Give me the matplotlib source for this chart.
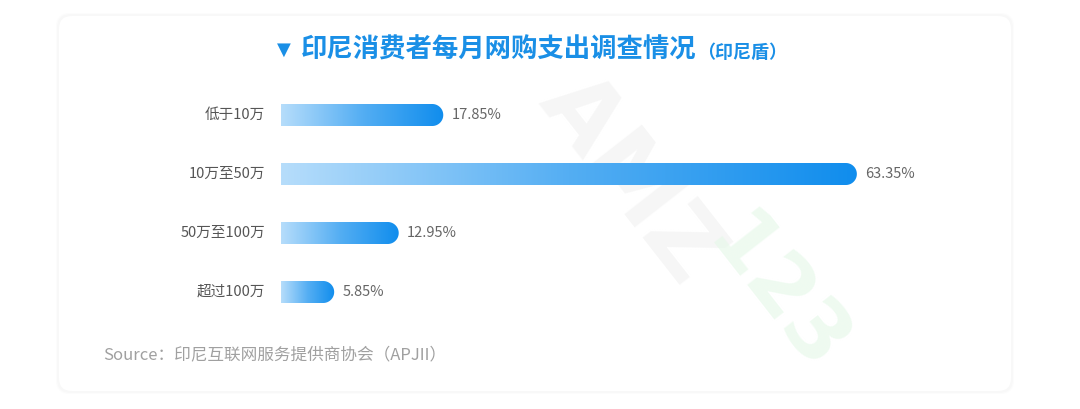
import numpy as np
import matplotlib.pyplot as plt
from matplotlib.path import Path
from matplotlib.patches import PathPatch, FancyBboxPatch
from matplotlib.colors import LinearSegmentedColormap

plt.rcParams['font.family'] = ['Noto Sans CJK SC', 'DejaVu Sans']

# data
categories = ["低于10万", "10万至50万", "50万至100万", "超过100万"]
values = [17.85, 63.35, 12.95, 5.85]
value_labels = ["17.85%", "63.35%", "12.95%", "5.85%"]
title = "印尼消费者每月网购支出调查情况"
title_unit = "（印尼盾）"
source = "Source：印尼互联网服务提供商协会（APJII）"

W, H = 1080, 409
fig = plt.figure(figsize=(W / 100, H / 100), dpi=100)
fig.patch.set_facecolor("white")

# card background with faint shadow
bg = fig.add_axes([0, 0, 1, 1])
bg.set_xlim(0, W)
bg.set_ylim(H, 0)
bg.axis("off")
for i, c in enumerate(["#fcfcfc", "#f8f8f8"]):
    bg.add_patch(FancyBboxPatch((58 - 2 + i, 15 - 2 + i), 954 + 4 - 2 * i, 377 + 4 - 2 * i,
                                boxstyle="round,pad=0,rounding_size=14",
                                fc=c, ec="none"))
bg.add_patch(FancyBboxPatch((59, 16), 952, 375, boxstyle="round,pad=0,rounding_size=13",
                            fc="white", ec="none"))

# watermark (very faint)
bg.text(630, 180, "AMZ", fontsize=68, fontweight="bold", color="#f0f0f0",
        rotation=-52, ha="center", va="center", alpha=0.6, family="DejaVu Sans")
bg.text(775, 295, "123", fontsize=60, fontweight="bold", color="#e4f8e7",
        rotation=-52, ha="center", va="center", alpha=0.6, family="DejaVu Sans")

# title
bg.text(277, 50, "▼", fontsize=13, color="#1a8fe6", ha="left", va="center",
        family="DejaVu Sans")
bg.text(301, 50, title, fontsize=19, fontweight="bold", color="#1a8fe6",
        ha="left", va="center")
bg.text(787, 52, title_unit, fontsize=13, fontweight="bold", color="#1a8fe6",
        ha="right", va="center")

# source
bg.text(103, 355, source, fontsize=12, color="#a0a0a0", ha="left", va="center")

# chart axes: x from bar start (281px), 9.09 px per percent
x0_px, ppu = 281, 9.09
xmax = 70
y_top, step = 115, 59
ax = fig.add_axes([x0_px / W, 1 - (y_top + 3.5 * step) / H,
                   xmax * ppu / W, 4 * step / H])
ax.set_xlim(0, xmax)
ax.set_ylim(len(categories) - 0.5, -0.5)
ax.axis("off")
ax.patch.set_alpha(0)

cmap = LinearSegmentedColormap.from_list("bar", ["#b6ddfb", "#54aef3", "#108ded"])
grad = np.linspace(0, 1, 256).reshape(1, -1)
bar_h = 22 / step
rx = 11 / ppu

for i, (cat, v, lab) in enumerate(zip(categories, values, value_labels)):
    top, bot = i - bar_h / 2, i + bar_h / 2
    t = np.linspace(-np.pi / 2, np.pi / 2, 40)
    arc = [(v - rx + rx * np.cos(a), i + bar_h / 2 * np.sin(a)) for a in t]
    verts = [(0, top)] + arc + [(0, bot), (0, top)]
    codes = [Path.MOVETO] + [Path.LINETO] * (len(verts) - 2) + [Path.CLOSEPOLY]
    clip = PathPatch(Path(verts, codes), fc="none", ec="none", transform=ax.transData)
    ax.add_patch(clip)
    im = ax.imshow(grad, cmap=cmap, aspect="auto", extent=(0, v, bot, top),
                   interpolation="bilinear")
    im.set_clip_path(clip)
    ax.text(v + 8 / ppu, i, lab, fontsize=10.5, color="#666666", ha="left", va="center")
    ax.text(-16 / ppu, i, cat, fontsize=10.5, color="#555555", ha="right", va="center")

ax.set_xlim(0, xmax)
ax.set_ylim(len(categories) - 0.5, -0.5)

fig.savefig("out.png", dpi=100)
